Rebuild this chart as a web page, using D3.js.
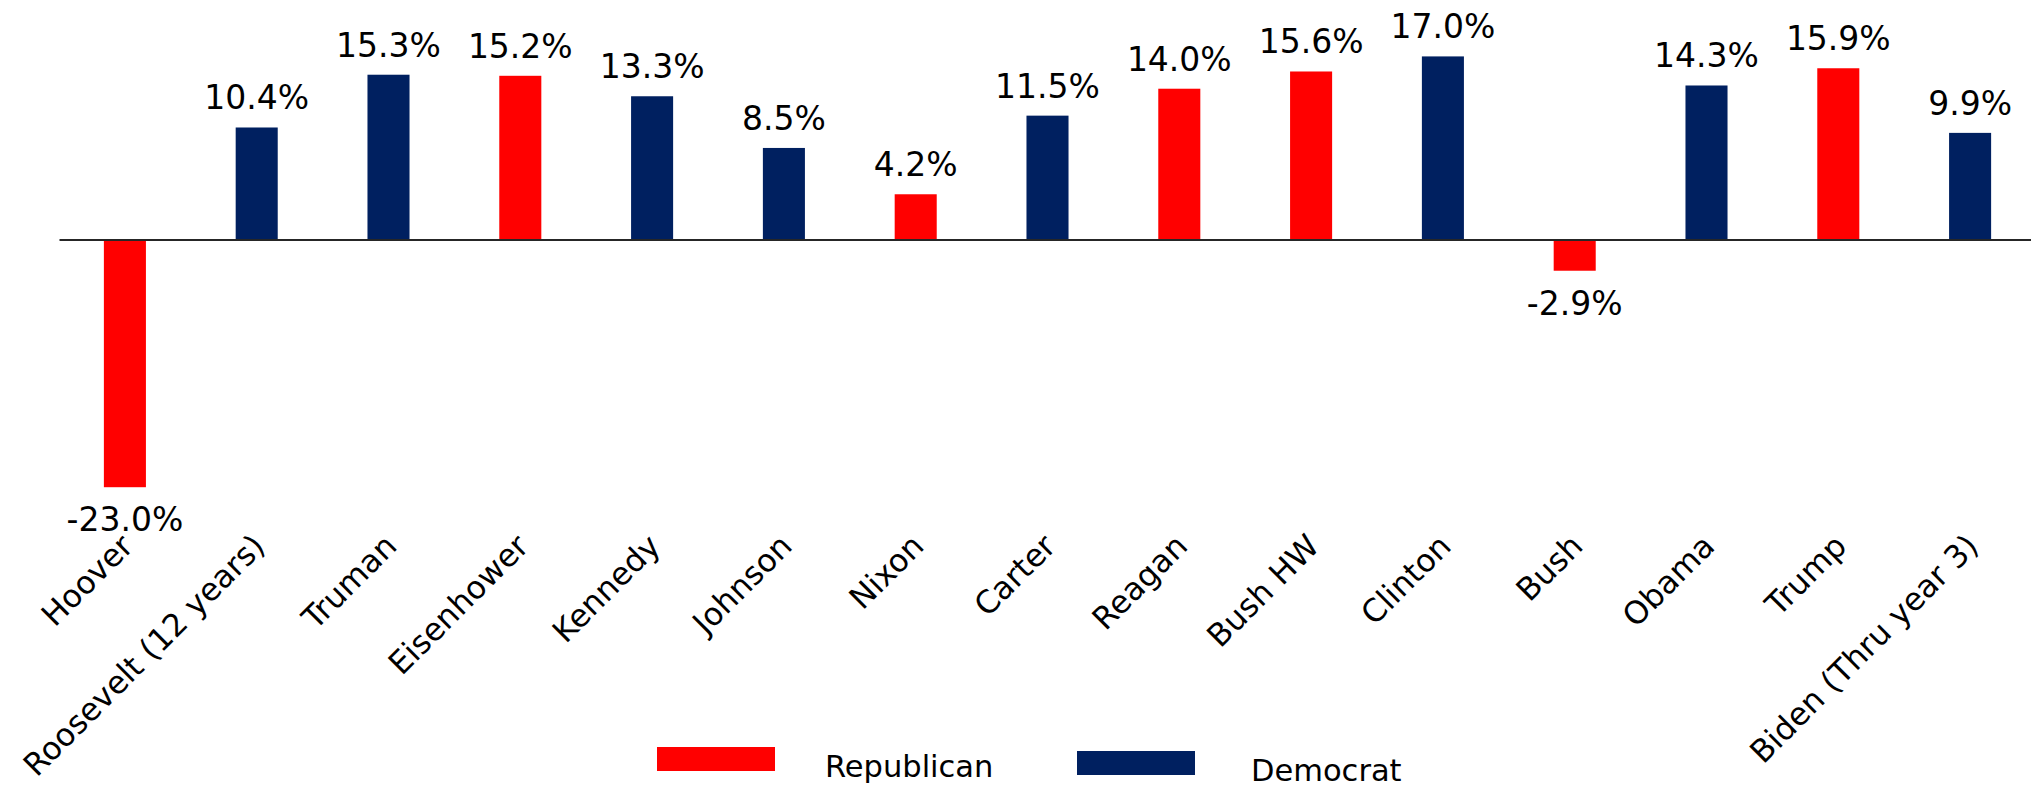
<!DOCTYPE html>
<html>
<head>
<meta charset="utf-8">
<script src="https://cdn.jsdelivr.net/npm/d3@7/dist/d3.min.js"></script>
<style>
  html, body { margin: 0; padding: 0; background: #ffffff; }
  svg { display: block; }
  text { font-family: "DejaVu Sans", Verdana, sans-serif; fill: #000; }
</style>
</head>
<body>
<svg id="chart" width="2031" height="787"></svg>
<script>
const categories = ["Hoover", "Roosevelt (12 years)", "Truman", "Eisenhower", "Kennedy", "Johnson", "Nixon", "Carter", "Reagan", "Bush HW", "Clinton", "Bush", "Obama", "Trump", "Biden (Thru year 3)"];
const values = [-23.0, 10.4, 15.3, 15.2, 13.3, 8.5, 4.2, 11.5, 14.0, 15.6, 17.0, -2.9, 14.3, 15.9, 9.9];
const parties = ["Republican", "Democrat", "Democrat", "Republican", "Democrat", "Democrat", "Republican", "Democrat", "Republican", "Republican", "Democrat", "Republican", "Democrat", "Republican", "Democrat"];
const legendParties = ["Republican", "Democrat"];
const partyColors = ["#FF0000", "#002060"];

const svg = d3.select("#chart");

const x = d3.scaleBand()
  .domain(categories)
  .range([59, 2036])
  .paddingInner(0.681)
  .paddingOuter(0.3405);

const y = d3.scaleLinear()
  .domain([-25, 20])
  .range([239.5 + 25 * 10.77, 239.5 - 20 * 10.77]);

const color = d3.scaleOrdinal().domain(legendParties).range(partyColors);

const data = categories.map((c, i) => ({ c, v: values[i], p: parties[i] }));

// bars
svg.append("g").selectAll("rect")
  .data(data)
  .join("rect")
  .attr("x", d => x(d.c))
  .attr("width", x.bandwidth())
  .attr("y", d => y(Math.max(0, d.v)))
  .attr("height", d => Math.abs(y(d.v) - y(0)))
  .attr("fill", d => color(d.p));

// zero axis line
const axisG = svg.append("g")
  .attr("transform", `translate(0,${y(0)})`)
  .call(d3.axisBottom(x).tickSize(0).tickFormat(""));
axisG.select(".domain").attr("stroke", "#262626").attr("stroke-width", 2);

// value labels
svg.append("g").selectAll("text")
  .data(data)
  .join("text")
  .attr("x", d => x(d.c) + x.bandwidth() / 2)
  .attr("y", d => d.v >= 0 ? y(d.v) - 18 : y(d.v) + 44)
  .attr("text-anchor", "middle")
  .style("font-size", "33px")
  .text(d => d.v.toFixed(1) + "%");

// category labels
const labelAxis = svg.append("g")
  .attr("transform", "translate(0,548)")
  .call(d3.axisBottom(x).tickSize(0).tickPadding(0));
labelAxis.select(".domain").remove();
labelAxis.selectAll("text")
  .attr("text-anchor", "end")
  .attr("dy", null)
  .attr("y", 0)
  .attr("transform", "translate(10,0) rotate(-45)")
  .style("font-size", "31.5px")
  .style("font-family", "'DejaVu Sans', Verdana, sans-serif")
  .attr("fill", "#000");

// legend
const legendX = [657, 1077];
const legendY = [747, 751];
const legendTextX = [825, 1251];
const lg = svg.append("g");
legendParties.forEach((p, i) => {
  lg.append("rect")
    .attr("x", legendX[i]).attr("y", legendY[i])
    .attr("width", 118).attr("height", 24)
    .attr("fill", color(p));
  lg.append("text")
    .attr("x", legendTextX[i]).attr("y", legendY[i] + 30)
    .style("font-size", "30.5px")
    .text(p);
});
</script>
</body>
</html>
